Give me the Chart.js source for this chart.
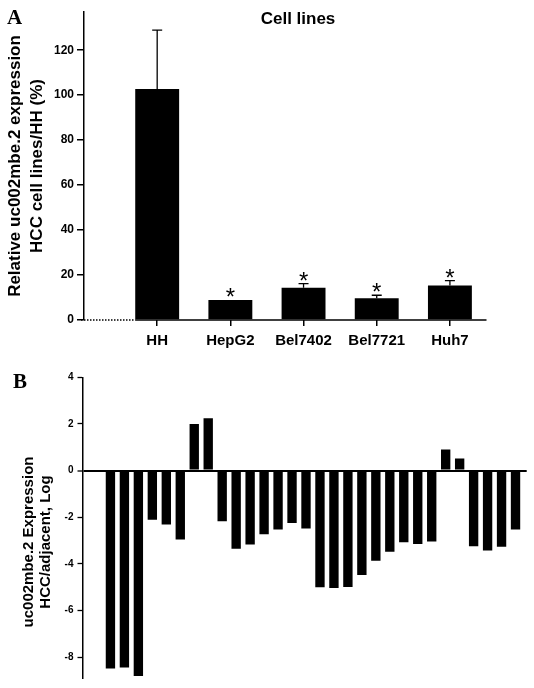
<!DOCTYPE html>
<html>
<head>
<meta charset="utf-8">
<script src="https://cdn.jsdelivr.net/npm/chart.js@4.4.1/dist/chart.umd.min.js"></script>
<style>
  html, body { margin: 0; padding: 0; background: #fff; }
  #wrap { position: relative; width: 534px; height: 688px; }
  #chartA { position: absolute; left: 0; top: 0; }
  #chartB { position: absolute; left: 0; top: 360px; }
</style>
</head>
<body>
<div id="wrap">
  <canvas id="chartA" width="534" height="360"></canvas>
  <canvas id="chartB" width="534" height="328"></canvas>
</div>
<script>
// panel A: cell lines vs HH
const cellLines = ['HH', 'HepG2', 'Bel7402', 'Bel7721', 'Huh7'];
const cellMeans = [102.8, 8.9, 14.4, 9.7, 15.3];
const cellErrors = [26.1, 0, 1.8, 1.3, 2.2];
const cellSignif = [false, true, true, true, true];
const cellTicks = [0, 20, 40, 60, 80, 100, 120];

// panel B: HCC vs adjacent tissue, one bar per sample (log)
const tissueRatios = [-8.49, -8.45, -8.81, -2.11, -2.31, -2.96, 2.0, 2.24, -2.18, -3.35,
  -3.17, -2.73, -2.53, -2.25, -2.49, -5.01, -5.04, -5.0, -4.48, -3.87,
  -3.48, -3.08, -3.15, -3.04, 0.9, 0.52, -3.25, -3.43, -3.27, -2.53];
const tissueTicks = [-8, -6, -4, -2, 0, 2, 4];

Chart.defaults.color = '#000';
Chart.defaults.font.family = '"Liberation Sans", Arial, sans-serif';

// letters, title and rotated axis titles
const panelText = {
  id: 'panelText',
  afterDraw(chart, args, opts) {
    const ctx = chart.ctx;
    ctx.save();
    ctx.fillStyle = '#000';
    ctx.textAlign = 'left';
    ctx.textBaseline = 'alphabetic';
    ctx.font = 'bold 21px "Liberation Serif", serif';
    ctx.fillText(opts.letter, opts.letterX, opts.letterY);
    if (opts.title) {
      ctx.font = 'bold 17px "Liberation Sans", Arial, sans-serif';
      ctx.textAlign = 'center';
      ctx.textBaseline = 'middle';
      ctx.fillText(opts.title, opts.titleX, opts.titleY);
    }
    ctx.font = `bold ${opts.yFont}px "Liberation Sans", Arial, sans-serif`;
    ctx.textAlign = 'center';
    ctx.textBaseline = 'middle';
    opts.yTitle.forEach((line, i) => {
      ctx.save();
      ctx.translate(opts.yTitleX[i], opts.yTitleY);
      ctx.rotate(-Math.PI / 2);
      ctx.fillText(line, 0, 0);
      ctx.restore();
    });
    ctx.restore();
  }
};

// x axis line of panel A: dotted up to the first bar, solid after
const baseLine = {
  id: 'baseLine',
  beforeDatasetsDraw(chart) {
    const ctx = chart.ctx;
    const area = chart.chartArea;
    const y0 = chart.scales.y.getPixelForValue(0);
    const first = chart.getDatasetMeta(0).data[0];
    const split = first.x - first.width / 2;
    ctx.save();
    ctx.strokeStyle = '#000';
    ctx.lineWidth = 1.5;
    ctx.setLineDash([1.5, 1.5]);
    ctx.beginPath();
    ctx.moveTo(area.left - 3, y0);
    ctx.lineTo(split, y0);
    ctx.stroke();
    ctx.setLineDash([]);
    ctx.beginPath();
    ctx.moveTo(split, y0);
    ctx.lineTo(area.right, y0);
    ctx.stroke();
    ctx.restore();
  }
};

// upper error bars and significance stars
const errorBars = {
  id: 'errorBars',
  afterDatasetsDraw(chart) {
    const ctx = chart.ctx;
    const yScale = chart.scales.y;
    ctx.save();
    ctx.strokeStyle = '#000';
    ctx.fillStyle = '#000';
    ctx.lineWidth = 1.3;
    chart.getDatasetMeta(0).data.forEach((bar, i) => {
      const top = yScale.getPixelForValue(cellMeans[i] + cellErrors[i]);
      if (cellErrors[i] > 0) {
        ctx.beginPath();
        ctx.moveTo(bar.x, bar.y);
        ctx.lineTo(bar.x, top);
        ctx.moveTo(bar.x - 5, top);
        ctx.lineTo(bar.x + 5, top);
        ctx.stroke();
      }
      if (cellSignif[i]) {
        ctx.font = '24px "Liberation Sans", Arial, sans-serif';
        ctx.textAlign = 'center';
        ctx.textBaseline = 'alphabetic';
        ctx.fillText('*', bar.x, top + 5);
      }
    });
    ctx.restore();
  }
};

new Chart(document.getElementById('chartA'), {
  type: 'bar',
  data: {
    datasets: [{
      data: cellMeans.map((v, i) => ({ x: i + 1, y: v })),
      backgroundColor: '#000',
      borderWidth: 0,
      barPercentage: 0.6,
      categoryPercentage: 1
    }]
  },
  options: {
    responsive: false,
    animation: false,
    devicePixelRatio: 1,
    layout: { padding: { top: 12, right: 47.5, left: 0, bottom: 0 } },
    plugins: {
      legend: { display: false },
      tooltip: { enabled: false },
      panelText: {
        letter: 'A', letterX: 7, letterY: 24,
        title: 'Cell lines', titleX: 298, titleY: 19,
        yFont: 17,
        yTitle: ['Relative uc002mbe.2 expression', 'HCC cell lines/HH (%)'],
        yTitleX: [15, 37], yTitleY: 166
      }
    },
    scales: {
      x: {
        type: 'linear',
        min: 0,
        max: 5.5,
        offset: false,
        afterFit(s) { s.height = 40; },
        afterBuildTicks(s) { s.ticks = cellLines.map((_, i) => ({ value: i + 1 })); },
        border: { display: false },
        grid: { offset: false, drawOnChartArea: false, drawTicks: true, tickLength: 6, color: '#000', lineWidth: 1.5 },
        ticks: {
          autoSkip: false,
          maxRotation: 0,
          padding: 6,
          font: { size: 15, weight: 'bold' },
          callback: v => cellLines[v - 1]
        }
      },
      y: {
        min: 0,
        max: 137,
        afterFit(s) { s.width = 84; },
        afterBuildTicks(s) { s.ticks = cellTicks.map(v => ({ value: v })); },
        border: { display: true, color: '#000', width: 1.5 },
        grid: { drawOnChartArea: false, tickLength: 7, color: '#000', lineWidth: 1.5 },
        ticks: { padding: 3, font: { size: 12, weight: 'bold' } }
      }
    }
  },
  plugins: [panelText, baseLine, errorBars]
});

new Chart(document.getElementById('chartB'), {
  type: 'bar',
  data: {
    datasets: [{
      data: tissueRatios.map((v, i) => ({ x: i + 2, y: v })),
      backgroundColor: '#000',
      borderWidth: 0,
      barPercentage: 0.67,
      categoryPercentage: 1
    }]
  },
  options: {
    responsive: false,
    animation: false,
    devicePixelRatio: 1,
    layout: { padding: { top: 17.3, right: 7.3, left: 0, bottom: 8 } },
    plugins: {
      legend: { display: false },
      tooltip: { enabled: false },
      panelText: {
        letter: 'B', letterX: 13, letterY: 28,
        yFont: 15,
        yTitle: ['uc002mbe.2 Expression', 'HCC/adjacent, Log'],
        yTitleX: [29, 46], yTitleY: 182
      }
    },
    scales: {
      x: { type: 'linear', min: 0, max: 31.8, offset: false, display: false, grid: { offset: false } },
      y: {
        min: -8.9,
        max: 4,
        afterFit(s) { s.width = 82.5; },
        afterBuildTicks(s) { s.ticks = tissueTicks.map(v => ({ value: v })); },
        border: { display: true, color: '#000', width: 1.5 },
        grid: {
          drawOnChartArea: true,
          tickLength: 5,
          tickColor: '#000',
          tickWidth: 1.3,
          color: c => (c.tick && c.tick.value === 0 ? '#000' : 'rgba(0,0,0,0)'),
          lineWidth: c => (c.tick && c.tick.value === 0 ? 2 : 1)
        },
        ticks: { padding: 4, font: { size: 10, weight: 'bold' } }
      }
    }
  },
  plugins: [panelText]
});
</script>
</body>
</html>
